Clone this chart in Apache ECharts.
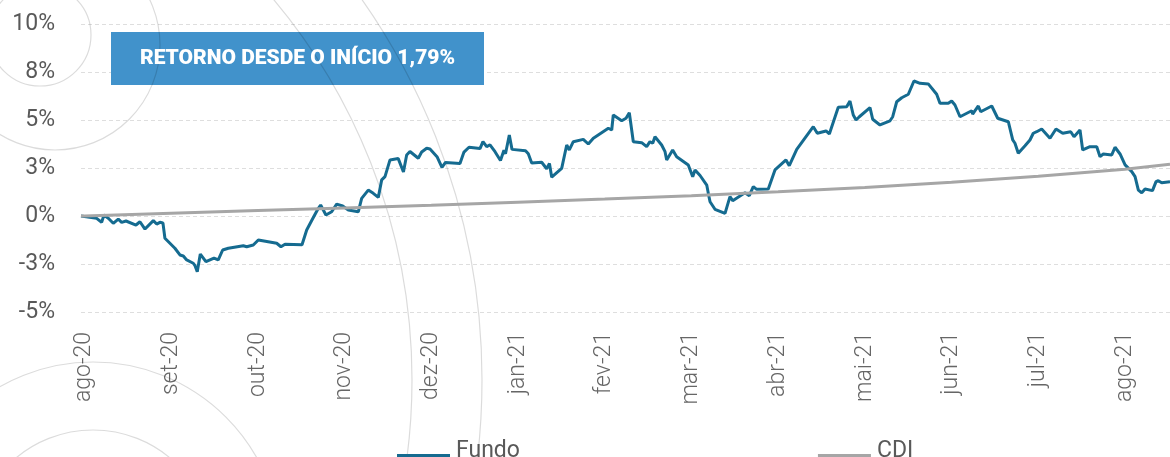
<!DOCTYPE html>
<html>
<head>
<meta charset="utf-8">
<script src="https://cdn.jsdelivr.net/npm/echarts@6/dist/echarts.min.js"></script>
<style>
  html, body { margin: 0; padding: 0; background: #fff; }
  #chart { width: 1170px; height: 457px; }
</style>
</head>
<body>
<div id="chart"></div>
<script>
  // x is measured in months since ago-20 (0 = ago-20, 12 = ago-21)
  const monthLabels = ['ago-20', 'set-20', 'out-20', 'nov-20', 'dez-20', 'jan-21', 'fev-21',
    'mar-21', 'abr-21', 'mai-21', 'jun-21', 'jul-21', 'ago-21'];
  const firstObs = -0.04;
  const lastObs = 12.52;

  // fund return (%), [month, value]
  const fundo = [
    [-0.04, 0], [0.141, -0.12], [0.198, -0.33], [0.225, 0.05], [0.275, -0.12], [0.332, -0.38],
    [0.390, -0.16], [0.429, -0.33], [0.479, -0.26], [0.594, -0.47], [0.640, -0.30], [0.698, -0.68],
    [0.794, -0.24], [0.833, -0.42], [0.870, -0.33], [0.905, -0.36], [0.928, -1.16], [1.043, -1.68],
    [1.101, -2.03], [1.140, -2.08], [1.179, -2.29], [1.255, -2.46], [1.275, -2.59], [1.301, -2.90],
    [1.336, -1.98], [1.401, -2.38], [1.494, -2.19], [1.543, -2.29], [1.594, -1.77], [1.659, -1.68],
    [1.832, -1.55], [1.871, -1.60], [1.947, -1.51], [2.005, -1.25], [2.024, -1.30], [2.217, -1.42],
    [2.266, -1.60], [2.313, -1.47], [2.509, -1.50], [2.563, -0.73], [2.624, -0.21], [2.697, 0.40],
    [2.724, 0.57], [2.785, 0.05], [2.851, 0.22], [2.909, 0.62], [2.978, 0.52], [3.043, 0.31],
    [3.158, 0.22], [3.197, 0.92], [3.273, 1.35], [3.331, 1.18], [3.389, 0.97], [3.428, 1.88],
    [3.466, 2.05], [3.524, 2.92], [3.619, 2.99], [3.679, 2.29], [3.716, 3.18], [3.754, 3.36],
    [3.850, 3.01], [3.889, 3.33], [3.947, 3.53], [3.985, 3.49], [4.066, 3.09], [4.123, 2.53],
    [4.164, 2.79], [4.331, 2.74], [4.377, 3.33], [4.435, 3.58], [4.562, 3.51], [4.596, 3.87],
    [4.639, 3.61], [4.677, 3.71], [4.735, 3.35], [4.798, 2.89], [4.838, 3.42], [4.856, 3.24],
    [4.900, 4.22], [4.931, 3.47], [5.087, 3.40], [5.119, 3.24], [5.158, 2.76], [5.273, 2.80],
    [5.331, 2.46], [5.363, 2.74], [5.389, 2.02], [5.407, 2.10], [5.504, 2.48], [5.562, 3.70],
    [5.592, 3.44], [5.638, 3.87], [5.753, 3.99], [5.811, 3.75], [5.869, 4.05], [6.042, 4.57],
    [6.081, 4.48], [6.099, 5.26], [6.196, 4.96], [6.246, 5.09], [6.284, 5.38], [6.330, 3.87],
    [6.427, 3.82], [6.484, 3.61], [6.522, 3.87], [6.554, 3.79], [6.580, 4.13], [6.657, 3.70],
    [6.696, 3.35], [6.715, 2.92], [6.734, 2.83], [6.784, 3.44], [6.830, 3.09], [6.964, 2.66],
    [6.984, 2.74], [7.015, 2.05], [7.042, 2.40], [7.100, 2.11], [7.177, 1.61], [7.195, 1.18],
    [7.215, 0.74], [7.272, 0.35], [7.388, 0.14], [7.445, 1.01], [7.476, 0.80], [7.618, 1.21],
    [7.668, 1.06], [7.714, 1.53], [7.753, 1.39], [7.887, 1.41], [7.964, 2.40], [8.091, 2.92],
    [8.129, 2.62], [8.215, 3.47], [8.299, 3.99], [8.406, 4.65], [8.426, 4.62], [8.452, 4.31],
    [8.553, 4.43], [8.591, 4.27], [8.694, 5.66], [8.791, 5.69], [8.829, 5.99], [8.867, 5.26],
    [8.899, 5.00], [8.937, 5.17], [9.060, 5.64], [9.091, 5.04], [9.175, 4.74], [9.291, 4.96],
    [9.322, 5.17], [9.368, 5.95], [9.426, 6.16], [9.502, 6.34], [9.567, 7.03], [9.637, 6.91],
    [9.732, 6.88], [9.829, 6.34], [9.867, 5.87], [9.963, 5.87], [10.002, 5.99], [10.040, 5.78],
    [10.098, 5.17], [10.233, 5.48], [10.244, 5.31], [10.309, 5.73], [10.337, 5.43], [10.464, 5.73],
    [10.533, 5.09], [10.655, 4.91], [10.706, 3.96], [10.732, 3.79], [10.770, 3.27], [10.848, 3.66],
    [10.905, 3.96], [10.943, 4.31], [10.983, 4.39], [11.040, 4.53], [11.136, 4.05], [11.205, 4.53],
    [11.283, 4.31], [11.375, 4.39], [11.413, 4.13], [11.482, 4.48], [11.513, 3.44], [11.597, 3.61],
    [11.675, 3.61], [11.713, 3.09], [11.751, 3.23], [11.848, 3.18], [11.886, 3.58], [11.944, 3.23],
    [12.002, 2.66], [12.079, 2.31], [12.117, 2.05], [12.155, 1.35], [12.194, 1.21], [12.232, 1.41],
    [12.318, 1.32], [12.359, 1.79], [12.385, 1.84], [12.424, 1.73], [12.520, 1.79]
  ];

  // CDI accumulated (%), at month starts
  const cdiMonths = [-0.04, 0, 1, 2, 3, 4, 5, 6, 7, 8, 9, 10, 11, 12, 12.52];
  const cdiValues = [0, 0, 0.14, 0.28, 0.42, 0.56, 0.72, 0.88, 1.05, 1.26, 1.48, 1.76, 2.07, 2.44, 2.69];

  const yMin = -5, yMax = 10, yStep = 2.5;
  const totalReturn = '1,79%';

  const fontFamily = 'Roboto, "Noto Sans", sans-serif';
  const textGrey = '#595959';

  // legend line sits a little below the text middle
  const legendLine = 'path://M0,0L53,0M0,8L53,8L53,11L0,11Z';

  // rounds half away from zero, like the original (2.5 -> 3, -2.5 -> -3)
  function pct(v) {
    const r = Math.round(Math.abs(v));
    return (v < 0 && r !== 0 ? '-' : '') + r + '%';
  }

  // faint decorative circles behind the chart
  const arcs = [
    {cx: -180, cy: 380, r: 592},
    {cx: -180, cy: 380, r: 662},
    {cx: 55, cy: 45, r: 105},
    {cx: 40, cy: 35, r: 51},
    {cx: 93, cy: 550, r: 188},
    {cx: 93, cy: 550, r: 120}
  ];

  const chart = echarts.init(document.getElementById('chart'));

  const option = {
    animation: false,
    backgroundColor: '#fff',
    textStyle: {fontFamily: fontFamily},
    grid: {left: 81, right: 0, top: 24, bottom: 145, containLabel: false},
    legend: {
      data: [{name: 'Fundo', icon: legendLine}, {name: 'CDI', icon: legendLine}],
      left: 392,
      top: 435,
      itemWidth: 53,
      itemHeight: 11,
      itemGap: 298,
      textStyle: {fontSize: 23, color: textGrey, fontFamily: fontFamily, padding: [0, 0, 0, 1]}
    },
    xAxis: {
      type: 'value',
      min: firstObs,
      max: lastObs,
      axisLine: {show: false},
      axisTick: {show: false},
      splitLine: {show: false},
      axisLabel: {
        customValues: monthLabels.map((m, i) => i),
        rotate: 90,
        margin: 20,
        fontSize: 23,
        fontWeight: 300,
        color: '#666',
        fontFamily: fontFamily,
        formatter: v => monthLabels[Math.round(v)]
      }
    },
    yAxis: {
      type: 'value',
      min: yMin,
      max: yMax,
      interval: yStep,
      axisLine: {show: false},
      axisTick: {show: false},
      axisLabel: {margin: 26, fontSize: 23, color: textGrey, fontFamily: fontFamily, formatter: pct},
      splitLine: {lineStyle: {color: '#dedede', width: 1, type: [4, 3]}}
    },
    graphic: [
      {
        type: 'rect', z: 1,
        shape: {x: 111, y: 32, width: 373, height: 53},
        style: {fill: '#4192cb'}
      },
      {
        type: 'text', z: 5,
        x: 297.5, y: 59,
        style: {
          text: 'RETORNO DESDE O INÍCIO ' + totalReturn,
          fill: '#fff',
          font: '900 21px ' + fontFamily,
          align: 'center',
          verticalAlign: 'middle'
        }
      }
    ].concat(arcs.map(a => ({
      type: 'circle', z: 1.5, silent: true,
      shape: a,
      style: {fill: 'none', stroke: 'rgba(0,0,0,0.14)', lineWidth: 1.2}
    }))),
    series: [
      {
        name: 'Fundo',
        type: 'line',
        data: fundo,
        symbol: 'none',
        z: 3,
        lineStyle: {color: '#156b90', width: 3},
        itemStyle: {color: '#156b90'}
      },
      {
        name: 'CDI',
        type: 'line',
        data: cdiMonths.map((m, i) => [m, cdiValues[i]]),
        symbol: 'none',
        z: 3,
        lineStyle: {color: '#a6a6a6', width: 3},
        itemStyle: {color: '#a6a6a6'}
      }
    ]
  };

  chart.setOption(option);
</script>
</body>
</html>
